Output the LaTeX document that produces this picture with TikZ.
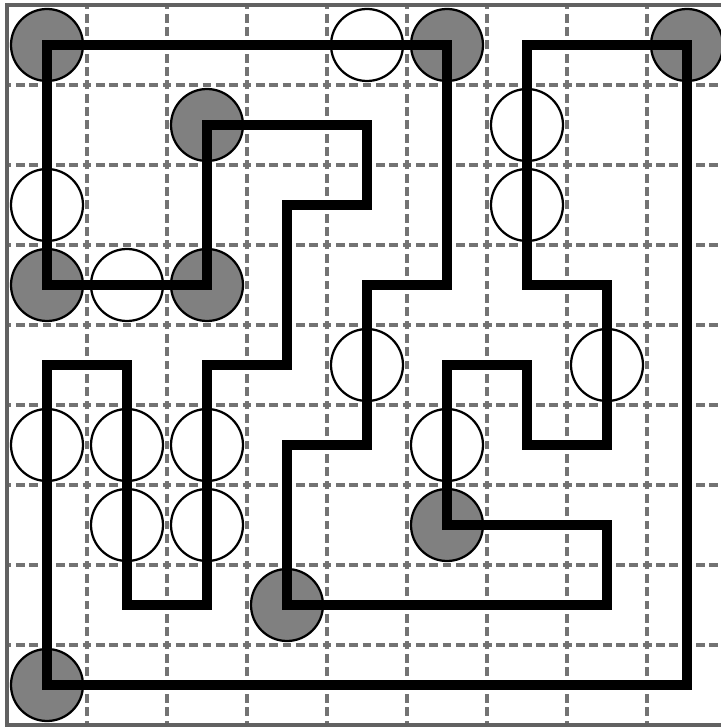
\documentclass[tikz,border=0pt]{standalone}
\usepackage{tikz}

\tikzset{
	pointilles/.style={draw=black!55,line width=1.2pt,dash pattern=on 0.11cm off 0.0567cm,dash phase=0.055cm},
	cadre/.style={draw=black!62,line width=1.3pt},
	blanc/.style={draw=black,fill=white,line width=0.8pt},
	noir/.style={draw=black,fill=black!50,line width=0.8pt},
	boucle/.style={draw=black,line width=0.125cm}
}

\begin{document}
\begin{tikzpicture}
	% Dimensions de la grille
	\def\nb{9}
	\def\rayon{0.45}
	% Cadre de l'image
	\useasboundingbox (-0.0875,-0.025) rectangle (8.925,9.0625);
	% Grille en pointilles
	\draw [pointilles] (0,0) grid (\nb,\nb);
	\draw [cadre] (0,0) rectangle (\nb,\nb);
	% Centres des cases
	\begin{scope}[shift={(0.5,0.5)}]
		% Cercles blancs
		\foreach \x/\y in {4/8,6/7,0/6,6/6,1/5,4/4,7/4,0/3,1/3,2/3,5/3,1/2,2/2}
			\draw [blanc] (\x,\y) circle (\rayon);
		% Cercles noirs
		\foreach \x/\y in {0/8,5/8,8/8,2/7,0/5,2/5,5/2,3/1,0/0}
			\draw [noir] (\x,\y) circle (\rayon);
		% Boucle
		\draw [boucle] (0,8) -- (5,8) -- (5,5) -- (4,5) -- (4,3) -- (3,3) -- (3,1)
			-- (7,1) -- (7,2) -- (5,2) -- (5,4) -- (6,4) -- (6,3) -- (7,3) -- (7,5)
			-- (6,5) -- (6,8) -- (8,8) -- (8,0) -- (0,0) -- (0,4) -- (1,4) -- (1,1)
			-- (2,1) -- (2,4) -- (3,4) -- (3,6) -- (4,6) -- (4,7) -- (2,7) -- (2,5)
			-- (0,5) -- cycle;
	\end{scope}
\end{tikzpicture}
\end{document}
